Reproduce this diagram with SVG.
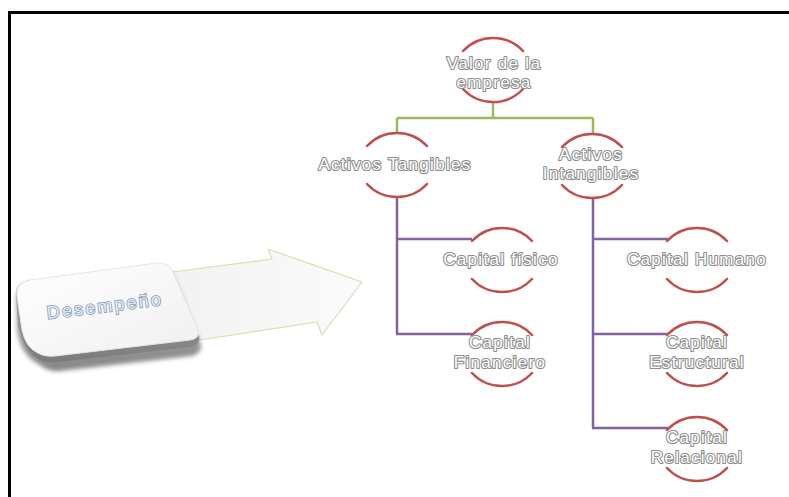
<svg xmlns="http://www.w3.org/2000/svg" xmlns:xlink="http://www.w3.org/1999/xlink" width="789" height="497" viewBox="0 0 789 497">
<style>
.arc{fill:none;stroke:#c0504d;stroke-width:2.5;stroke-linecap:round}
.lbl{font-family:"Liberation Sans",Arial,sans-serif;font-size:17px;letter-spacing:1.3px;fill:#ffffff;stroke:#8c8c8c;stroke-width:2.2;paint-order:stroke;text-anchor:middle;stroke-linejoin:round}
.g{fill:none;stroke:#9bbb59;stroke-width:2.5}
.p{fill:none;stroke:#8064a2;stroke-width:2.5}
</style>
<defs>
<path id="arcs" d="M-30,-19 A41,41 0 0 1 30,-19 M-30,19 A41,41 0 0 0 30,19"/>
<linearGradient id="arrowFill" x1="0" y1="0" x2="1" y2="0">
<stop offset="0" stop-color="#f2f2f2"/><stop offset="1" stop-color="#fbfbfb"/>
</linearGradient>
<linearGradient id="btnSide" x1="0" y1="0" x2="0" y2="1">
<stop offset="0" stop-color="#b8b8b8"/><stop offset="1" stop-color="#7a7a7a"/>
</linearGradient>
<linearGradient id="btnTop" x1="0" y1="0" x2="1" y2="1">
<stop offset="0" stop-color="#ffffff"/><stop offset="1" stop-color="#f0f0f0"/>
</linearGradient>
<filter id="soft" x="-20%" y="-20%" width="140%" height="140%"><feGaussianBlur stdDeviation="2"/></filter>
</defs>
<rect width="789" height="497" fill="#ffffff"/>
<path d="M9.5,497 V12.5 H789" fill="none" stroke="#000" stroke-width="3"/>

<g id="arrow">
<path d="M172,272 L272,259 L268,249 L362,282 L322,335 L317,322 L200,340 Z" fill="url(#arrowFill)" stroke="#d9ddb4" stroke-width="1.2" stroke-linejoin="round"/>
</g>

<g id="desempeno">
<path d="M40,365 Q20,355 17,330 L16,300 Q15,287 30,285 L160,270 Q172,269 176,280 L200,342 Q204,352 192,356 L60,371 Q48,372 40,365 Z" fill="url(#btnSide)" filter="url(#soft)" opacity="0.9"/>
<path d="M40,360 Q24,352 18,325 L16,295 Q15,282 30,280 L158,264 Q170,263 174,274 L198,334 Q202,344 190,347 L58,362 Q48,363 40,360 Z" fill="url(#btnSide)"/>
<path d="M38,353 Q26,348 22,330 L17,296 Q15,282 30,280 L157,263 Q169,262 173,272 L197,328 Q202,338 190,340 L55,356 Q45,357 38,353 Z" fill="url(#btnTop)" stroke="#e6e6e6" stroke-width="1"/>
<text x="105" y="312" transform="rotate(-7 105 307)" font-family="'Liberation Sans',Arial,sans-serif" font-size="18" letter-spacing="2.2" text-anchor="middle" fill="#e4ebf3" stroke="#8599b8" stroke-width="1.6" paint-order="stroke">Desempeño</text>
</g>

<g id="connectors">
<path class="g" d="M493,103 V118 M397,118 H593 M397,118 V132 M593,118 V133"/>
<path class="p" d="M397,198 V334 M396,239 H472 M396,334 H472"/>
<path class="p" d="M593,199 V428 M592,239 H668 M592,334 H668 M592,428 H668"/>
</g>

<g id="valor"><use xlink:href="#arcs" x="493" y="70" class="arc"/>
<text class="lbl" x="494" y="69">Valor de la</text><text class="lbl" x="494" y="88">empresa</text></g>

<g id="tangibles"><use xlink:href="#arcs" x="397" y="165" class="arc"/>
<text class="lbl" x="395" y="170">Activos Tangibles</text></g>

<g id="intangibles"><use xlink:href="#arcs" x="592" y="166" class="arc"/>
<text class="lbl" x="591" y="160">Activos</text><text class="lbl" x="591" y="179">Intangibles</text></g>

<g id="fisico"><use xlink:href="#arcs" x="502" y="260" class="arc"/>
<text class="lbl" x="501" y="265">Capital físico</text></g>

<g id="financiero"><use xlink:href="#arcs" x="502" y="354" class="arc"/>
<text class="lbl" x="500" y="348">Capital</text><text class="lbl" x="500" y="368">Financiero</text></g>

<g id="humano"><use xlink:href="#arcs" x="697" y="260" class="arc"/>
<text class="lbl" x="697" y="265">Capital Humano</text></g>

<g id="estructural"><use xlink:href="#arcs" x="697" y="354" class="arc"/>
<text class="lbl" x="697" y="348">Capital</text><text class="lbl" x="697" y="368">Estructural</text></g>

<g id="relacional"><use xlink:href="#arcs" x="697" y="449" class="arc"/>
<text class="lbl" x="697" y="443">Capital</text><text class="lbl" x="697" y="463">Relacional</text></g>
</svg>
